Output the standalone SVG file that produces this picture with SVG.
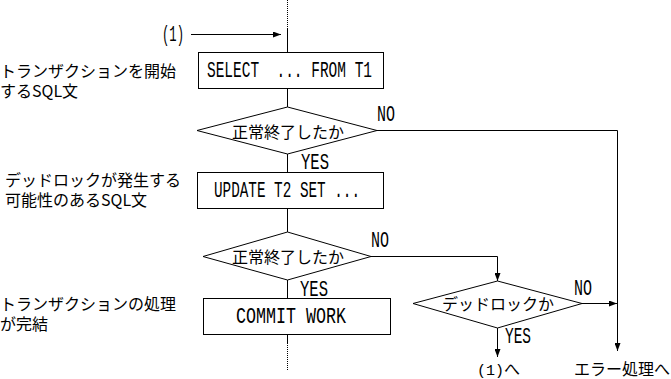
<svg xmlns="http://www.w3.org/2000/svg" width="671" height="379" viewBox="0 0 671 379">
<style>
  .bg{fill:#fff}
  .shape{fill:#fff;stroke:#000;stroke-width:1}
  .ln{fill:none;stroke:#000;stroke-width:1}
  .dot{fill:none;stroke:#000;stroke-width:1;stroke-dasharray:1 1}
  .jp{font-family:"Noto Sans CJK JP","Noto Sans CJK SC",sans-serif;font-size:16px;fill:#000}
  .lat{font-family:"Liberation Mono",monospace;font-size:15px;fill:#000}
</style>
<defs>
  <marker id="ah" markerWidth="8" markerHeight="6" refX="8" refY="3" orient="auto" markerUnits="userSpaceOnUse">
    <path d="M0,0 L8,3 L0,6 Z" fill="#000"/>
  </marker>
</defs>
<rect class="bg" x="0" y="0" width="671" height="379"/>

<g id="connectors">
  <line class="dot" x1="287.5" y1="0" x2="287.5" y2="28"/>
  <line class="ln" x1="287.5" y1="28" x2="287.5" y2="52"/>
  <line class="ln" x1="191" y1="34.5" x2="281" y2="34.5" marker-end="url(#ah)"/>
  <line class="ln" x1="287.5" y1="88" x2="287.5" y2="107"/>
  <line class="ln" x1="287.5" y1="154" x2="287.5" y2="172"/>
  <line class="ln" x1="287.5" y1="208" x2="287.5" y2="232"/>
  <line class="ln" x1="287.5" y1="280" x2="287.5" y2="298"/>
  <line class="ln" x1="287.5" y1="334" x2="287.5" y2="343"/>
  <line class="dot" x1="287.5" y1="343" x2="287.5" y2="370"/>
  <polyline class="ln" points="377,130.5 617.5,130.5 617.5,351" marker-end="url(#ah)"/>
  <polyline class="ln" points="371,256.5 497.5,256.5 497.5,281" marker-end="url(#ah)"/>
  <line class="ln" x1="582" y1="303.5" x2="617" y2="303.5" marker-end="url(#ah)"/>
  <line class="ln" x1="497.5" y1="328" x2="497.5" y2="357" marker-end="url(#ah)"/>
  <text class="lat" transform="translate(162,41) scale(1,1.5)" textLength="22" lengthAdjust="spacingAndGlyphs">(1)</text>
  <text class="lat" transform="translate(377,121) scale(1,1.5)" textLength="18" lengthAdjust="spacingAndGlyphs">NO</text>
  <text class="lat" transform="translate(301,169) scale(1,1.5)" textLength="28" lengthAdjust="spacingAndGlyphs">YES</text>
  <text class="lat" transform="translate(371,247) scale(1,1.5)" textLength="18" lengthAdjust="spacingAndGlyphs">NO</text>
  <text class="lat" transform="translate(300,296) scale(1,1.5)" textLength="28" lengthAdjust="spacingAndGlyphs">YES</text>
  <text class="lat" transform="translate(574,295) scale(1,1.5)" textLength="18" lengthAdjust="spacingAndGlyphs">NO</text>
  <text class="lat" transform="translate(505,343) scale(1,1.5)" textLength="26" lengthAdjust="spacingAndGlyphs">YES</text>
</g>

<g id="note1">
  <text class="jp"><tspan x="0" y="77">トランザクションを開始</tspan><tspan x="0" y="97">するSQL文</tspan></text>
</g>
<g id="note2">
  <text class="jp"><tspan x="5" y="186">デッドロックが発生する</tspan><tspan x="5" y="206">可能性のあるSQL文</tspan></text>
</g>
<g id="note3">
  <text class="jp"><tspan x="0" y="310">トランザクションの処理</tspan><tspan x="0" y="330">が完結</tspan></text>
</g>

<g id="select">
  <rect class="shape" x="198.5" y="52.5" width="185" height="36"/>
  <text class="lat" transform="translate(207,77) scale(1,1.5)" textLength="165" lengthAdjust="spacingAndGlyphs" xml:space="preserve">SELECT  ... FROM T1</text>
</g>
<g id="check1">
  <polygon class="shape" points="287.5,107 377,130.5 287.5,154 197,130.5"/>
  <text class="jp" x="288" y="138" text-anchor="middle">正常終了したか</text>
</g>
<g id="update">
  <rect class="shape" x="197.5" y="172.5" width="186" height="36"/>
  <text class="lat" transform="translate(214,197) scale(1,1.5)" textLength="146" lengthAdjust="spacingAndGlyphs">UPDATE T2 SET ...</text>
</g>
<g id="check2">
  <polygon class="shape" points="287.5,232 371,256.5 287.5,280 203,256.5"/>
  <text class="jp" x="288" y="263" text-anchor="middle">正常終了したか</text>
</g>
<g id="commit">
  <rect class="shape" x="203.5" y="298.5" width="187" height="36"/>
  <text class="lat" transform="translate(236,323) scale(1,1.5)" textLength="110" lengthAdjust="spacingAndGlyphs">COMMIT WORK</text>
</g>
<g id="deadlock">
  <polygon class="shape" points="497.5,281 582,303.5 497.5,328 413,303.5"/>
  <text class="jp" x="498" y="310" text-anchor="middle">デッドロックか</text>
</g>
<g id="retry">
  <text class="jp" x="477" y="375"><tspan class="lat" font-size="17">(1)</tspan>へ</text>
</g>
<g id="error">
  <text class="jp" x="574" y="375">エラー処理へ</text>
</g>
</svg>
